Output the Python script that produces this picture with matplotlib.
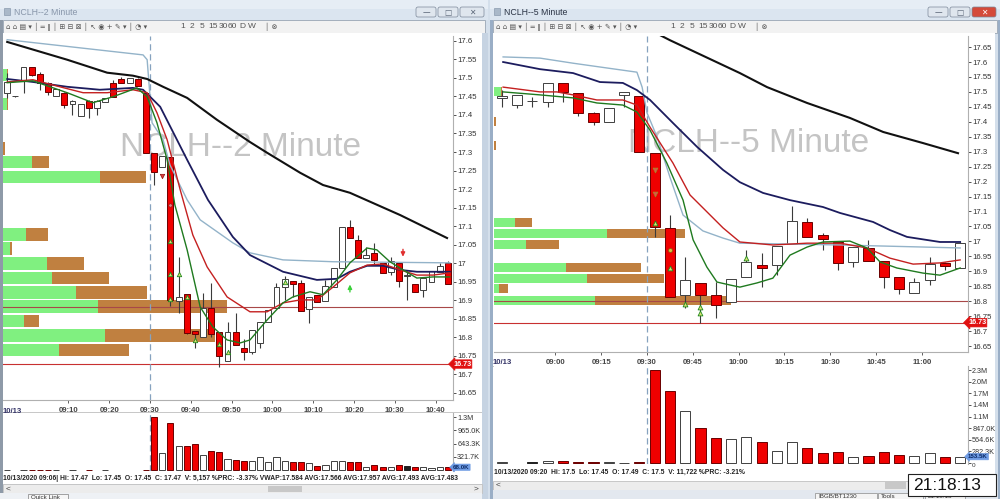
import numpy as np
import matplotlib.pyplot as plt
from matplotlib.patches import Rectangle, FancyBboxPatch

plt.rcParams['font.family'] = ['Liberation Sans', 'DejaVu Sans']

W, H = 1000, 499

# ---------------- NCLH 2 minute (bar start, o, h, l, c, volume in K) ----------------
l_time = ["08:54", "08:56", "08:58", "09:00", "09:02", "09:04", "09:06", "09:08", "09:10", "09:12",
          "09:14", "09:16", "09:18", "09:20", "09:22", "09:24", "09:26", "09:28", "09:30", "09:32",
          "09:34", "09:36", "09:38", "09:40", "09:42", "09:44", "09:46", "09:48", "09:50", "09:52",
          "09:54", "09:56", "09:58", "10:00", "10:02", "10:04", "10:06", "10:08", "10:10", "10:12",
          "10:14", "10:16", "10:18", "10:20", "10:22", "10:24", "10:26", "10:28", "10:30", "10:32",
          "10:34", "10:36", "10:38", "10:40", "10:42"]
l_open = [17.46, 17.45, 17.495, 17.53, 17.511, 17.487, 17.45, 17.46, 17.43, 17.398,
          17.438, 17.419, 17.435, 17.487, 17.497, 17.487, 17.497, 17.46, 17.298, 17.26,
          17.287, 16.898, 16.917, 16.817, 16.801, 16.879, 16.815, 16.736, 16.815, 16.771,
          16.76, 16.785, 16.842, 16.879, 16.936, 16.952, 16.947, 16.877, 16.915, 16.898,
          16.936, 16.987, 17.098, 17.063, 17.014, 17.028, 17.001, 16.977, 17.001, 16.965,
          16.944, 16.928, 16.95, 16.977, 17.001]
l_high = [17.514, 17.452, 17.53, 17.53, 17.515, 17.49, 17.47, 17.462, 17.44, 17.43,
          17.44, 17.44, 17.446, 17.495, 17.503, 17.50, 17.50, 17.46, 17.298, 17.29,
          17.287, 17.017, 16.917, 16.817, 16.92, 16.947, 16.815, 16.842, 16.866, 16.795,
          16.82, 16.842, 16.874, 16.947, 16.966, 16.952, 16.955, 16.909, 16.915, 16.955,
          16.987, 17.098, 17.117, 17.076, 17.044, 17.055, 17.001, 17.017, 17.001, 16.982,
          16.944, 16.96, 16.979, 17.001, 17.006]
l_low = [17.446, 17.448, 17.46, 17.505, 17.468, 17.455, 17.45, 17.42, 17.40, 17.398,
         17.392, 17.40, 17.435, 17.449, 17.487, 17.487, 17.479, 17.298, 17.211, 17.26,
         16.885, 16.866, 16.81, 16.771, 16.80, 16.80, 16.72, 16.736, 16.78, 16.739,
         16.755, 16.771, 16.842, 16.879, 16.90, 16.909, 16.871, 16.839, 16.896, 16.898,
         16.936, 16.987, 17.068, 17.014, 17.014, 16.995, 16.974, 16.968, 16.936, 16.90,
         16.923, 16.909, 16.95, 16.977, 16.944]
l_close = [17.489, 17.45, 17.53, 17.508, 17.487, 17.462, 17.47, 17.427, 17.438, 17.43,
           17.419, 17.438, 17.446, 17.449, 17.487, 17.50, 17.479, 17.298, 17.246, 17.29,
           16.901, 16.909, 16.812, 16.809, 16.879, 16.809, 16.75, 16.815, 16.78, 16.76,
           16.82, 16.842, 16.874, 16.936, 16.958, 16.944, 16.871, 16.909, 16.896, 16.939,
           16.987, 17.098, 17.068, 17.014, 17.022, 17.009, 16.974, 17.006, 16.952, 16.965,
           16.923, 16.96, 16.979, 16.993, 16.944]
l_vol = [8, 0, 8, 8, 5, 5, 5.157, 0, 5, 0,
         5, 0, 5, 0, 0, 0, 0, 8, 1290, 411,
         1140, 580, 580, 629, 363, 460, 435, 266, 242, 230,
         218, 320, 185, 320, 230, 205, 205, 180, 100, 120,
         218, 218, 205, 205, 85, 120, 85, 85, 120, 100,
         65, 85, 50, 85, 68]

# moving averages (minutes after 09:00, price)
l_ma_black_t = [-5, 9.7, 19.5, 25.8, 29.3, 33.2, 39.1, 46.4, 54.5, 58.7, 66.8, 72.4, 79, 91.3, 102.8]
l_ma_black = [17.597, 17.549, 17.514, 17.506, 17.497, 17.476, 17.446, 17.387, 17.327, 17.298,
              17.244, 17.211, 17.19, 17.13, 17.068]
l_vwap_t = [-5, 28.3, 29.3, 30.5, 33.2, 34.9, 39.1, 42.3, 50.3, 54.5, 62.6, 74.9, 103.5]
l_vwap = [17.603, 17.562, 17.549, 17.379, 17.333, 17.265, 17.171, 17.117, 17.055, 17.028,
          17.009, 17.004, 17.001]
l_ma_navy_t = [-5, 1.3, 9.7, 17.7, 25.8, 28.3, 32.5, 39.1, 44.2, 50.3, 54.5, 62.6, 70.9, 75.8,
               79, 83.2, 87.1, 91.3, 95.4, 103.5]
l_ma_navy = [17.497, 17.489, 17.476, 17.468, 17.473, 17.468, 17.422, 17.279, 17.171, 17.071,
             17.022, 16.977, 16.955, 16.958, 16.977, 16.993, 16.993, 16.982, 16.977, 16.977]
l_ma_red_t = [-5, 1.3, 7.9, 13.6, 19.5, 25.8, 29.3, 31.7, 34.2, 37.4, 40.5, 44, 48.9, 54.5,
              58.7, 62.6, 66.8, 70.9, 74.9, 79, 83.2, 87.1, 91.3, 95.4, 99.4, 103.5]
l_ma_red = [17.489, 17.495, 17.476, 17.46, 17.46, 17.468, 17.46, 17.406, 17.333, 17.198,
            17.076, 16.99, 16.909, 16.869, 16.869, 16.893, 16.901, 16.901, 16.936, 16.974,
            16.995, 16.998, 16.982, 16.968, 16.968, 16.974]
l_ma_green_t = [-5, 1.3, 9.7, 16, 20.9, 26.8, 29.3, 31.7, 34.2, 36.1, 39.1, 42.3, 45.4, 48.9,
                52.1, 54.5, 58.7, 62.6, 65, 69.2, 72.4, 75.8, 79, 83.2, 85.6, 88.8, 92, 95.4,
                99.4, 103.5]
l_ma_green = [17.487, 17.492, 17.46, 17.433, 17.449, 17.473, 17.449, 17.379, 17.279, 17.157,
              17.036, 16.882, 16.828, 16.793, 16.785, 16.793, 16.847, 16.893, 16.909, 16.923,
              16.915, 16.955, 17.001, 17.041, 17.036, 17.004, 16.982, 16.96, 16.963, 16.963]

# volume profile: price level, buy, sell
l_prof_price = [17.508, 17.43, 17.31, 17.273, 17.233, 17.078, 17.039, 17.0, 16.96, 16.921,
                16.883, 16.844, 16.805, 16.766]
l_prof_buy = [4, 4, 0, 29, 97, 23, 7, 44, 49, 73, 95, 21, 102, 56]
l_prof_sell = [1, 0.5, 2, 17, 46, 22, 2, 37, 57, 71, 129, 15, 110, 70]
l_levels = [16.883, 16.728]

# ---------------- NCLH 5 minute ----------------
r_time = ["08:40", "08:45", "08:50", "08:55", "09:00", "09:05", "09:10", "09:15", "09:20", "09:25",
          "09:30", "09:35", "09:40", "09:45", "09:50", "09:55", "10:00", "10:05", "10:10", "10:15",
          "10:20", "10:25", "10:30", "10:35", "10:40", "10:45", "10:50", "10:55", "11:00", "11:05",
          "11:10"]
r_open = [17.479, 17.456, 17.469, 17.466, 17.53, 17.496, 17.429, 17.399, 17.49, 17.486,
          17.296, 17.045, 16.821, 16.861, 16.821, 16.797, 16.881, 16.921, 16.921, 16.991,
          17.065, 17.021, 16.998, 16.931, 16.978, 16.934, 16.881, 16.827, 16.871, 16.928,
          16.911]
r_high = [17.506, 17.49, 17.483, 17.53, 17.53, 17.496, 17.433, 17.446, 17.50, 17.486,
          17.296, 17.088, 16.948, 16.861, 16.864, 16.874, 16.971, 16.961, 16.985, 17.118,
          17.078, 17.028, 16.998, 16.981, 17.005, 16.934, 16.881, 16.877, 16.948, 16.93,
          16.998]
r_low = [17.449, 17.446, 17.449, 17.449, 17.466, 17.419, 17.389, 17.399, 17.45, 17.299,
         17.015, 16.814, 16.777, 16.727, 16.744, 16.797, 16.881, 16.847, 16.888, 16.991,
         17.015, 16.971, 16.904, 16.914, 16.934, 16.844, 16.824, 16.827, 16.854, 16.904,
         16.911]
r_close = [17.486, 17.49, 17.469, 17.53, 17.50, 17.429, 17.399, 17.446, 17.50, 17.299,
           17.048, 16.814, 16.871, 16.821, 16.787, 16.874, 16.931, 16.911, 16.985, 17.068,
           17.015, 17.008, 16.928, 16.981, 16.934, 16.881, 16.841, 16.864, 16.924, 16.918,
           16.995]
r_vol = [20, 0, 15, 50, 40, 25, 25, 25, 11.722, 25,
         2260, 1760, 1270, 852, 600, 595, 640, 511, 300, 520,
         365, 235, 267, 154, 170, 276, 195, 170, 235, 146,
         153.5]

r_ma_black_t = [31, 37.5, 60.4, 69.3, 82.4, 96.4, 107.3, 120.3, 131.8]
r_ma_black = [17.707, 17.673, 17.563, 17.516, 17.463, 17.413, 17.366, 17.329, 17.295]
r_vwap_t = [-17.1, -5, 5.8, 16.9, 26.7, 28.4, 30, 33.3, 37.5, 41.8, 48.3, 54.9, 60.4, 93.2, 132.5]
r_vwap = [17.617, 17.613, 17.596, 17.58, 17.566, 17.516, 17.43, 17.349, 17.215, 17.088,
          17.035, 17.011, 16.994, 16.988, 16.978]
r_ma_navy_t = [-17.1, -5, 5.8, 14.6, 22.1, 26.7, 31, 38.5, 46.4, 54.9, 60.4, 68, 76.8, 87.6,
               93.2, 104, 109.5, 115.1, 125.9, 132.5]
r_ma_navy = [17.60, 17.576, 17.563, 17.533, 17.53, 17.506, 17.473, 17.396, 17.316, 17.239,
             17.198, 17.162, 17.138, 17.115, 17.095, 17.065, 17.038, 17.015, 16.998, 16.998]
r_ma_red_t = [-17.1, -5, 0.5, 5.8, 13.6, 22.1, 26.7, 31, 38.5, 44.1, 54.9, 60.4, 71.2, 82.4,
              93.2, 102, 109.5, 117.1, 125.9, 132.5]
r_ma_red = [17.516, 17.5, 17.5, 17.49, 17.473, 17.473, 17.456, 17.382, 17.262, 17.155,
            17.045, 16.998, 16.988, 16.994, 16.994, 16.978, 16.944, 16.924, 16.928, 16.938]
r_ma_green_t = [-17.1, -5, 5.8, 13.6, 22.1, 26.7, 31, 36.5, 41.8, 45.1, 49.6, 52.9, 57.2, 60.4,
                66, 71.2, 76.8, 82.4, 87.6, 96.4, 102, 106.3, 111.8, 120.3, 125.9, 132.5]
r_ma_green = [17.5, 17.49, 17.48, 17.463, 17.456, 17.433, 17.372, 17.262, 17.138, 17.005,
              16.914, 16.864, 16.854, 16.847, 16.861, 16.877, 16.954, 16.981, 16.998, 17.001,
              16.978, 16.931, 16.911, 16.894, 16.887, 16.911]

r_prof_price = [17.50, 17.40, 17.32, 17.063, 17.026, 16.989, 16.913, 16.876, 16.841, 16.802]
r_prof_buy = [7, 0, 0, 21, 113, 32, 72, 93, 5, 101]
r_prof_sell = [1, 2, 2, 17, 78, 33, 75, 77, 9, 136]
r_levels = [16.80, 16.728]

price_ticks_l = [16.65, 16.7, 16.75, 16.8, 16.85, 16.9, 16.95, 17.0, 17.05, 17.1, 17.15, 17.2,
                 17.25, 17.3, 17.35, 17.4, 17.45, 17.5, 17.55, 17.6]
price_ticks_r = price_ticks_l + [17.65]
l_vol_ticks = [321.7, 643.3, 965.0, 1286.8]
l_vol_labels = ["321.7K", "643.3K", "965.0K", "1.3M"]
r_vol_ticks = [0, 282.3, 564.6, 847.0, 1129.3, 1411.6, 1693.9, 1976.2, 2258.6]
r_vol_labels = ["0", "282.3K", "564.6K", "847.0K", "1.1M", "1.4M", "1.7M", "2.0M", "2.3M"]
l_xticks = [10, 20, 30, 40, 50, 60, 70, 80, 90, 100]
r_xticks = [0, 15, 30, 45, 60, 75, 90, 105, 120]


def minutes(s):
    h, m = s.split(":")
    return (int(h) - 9) * 60 + int(m)


def hhmm(t):
    return "%02d:%02d" % (9 + t // 60, t % 60)


def px_axes(fig, x0, y0, x1, y1, z=2):
    ax = fig.add_axes([x0 / W, 1 - y1 / H, (x1 - x0) / W, (y1 - y0) / H])
    ax.set_zorder(z)
    return ax


def draw_candles(ax, t, o, h, l, c, width):
    t = np.array(t); o = np.array(o); h = np.array(h); l = np.array(l); c = np.array(c)
    ax.vlines(t, l, h, color='#3a3a3a', lw=0.8, zorder=3)
    up = c >= o
    lo = np.minimum(o, c)
    hgt = np.maximum(np.abs(c - o), 0.002)
    ax.bar(t[up], hgt[up], width, bottom=lo[up], color='white', edgecolor='#404040', lw=0.7, zorder=4)
    ax.bar(t[~up], hgt[~up], width, bottom=lo[~up], color='#f00000', edgecolor='#6a0000', lw=0.7, zorder=4)


def draw_volume(ax, t, o, c, v, width):
    t = np.array(t); o = np.array(o); c = np.array(c); v = np.array(v)
    keep = v > 0
    t, o, c, v = t[keep], o[keep], c[keep], v[keep]
    cols = ['white' if cc > oo else ('#f00000' if cc < oo else '#202020') for oo, cc in zip(o, c)]
    edges = ['#404040' if cc > oo else ('#6a0000' if cc < oo else '#202020') for oo, cc in zip(o, c)]
    ax.bar(t, v, width, color=cols, edgecolor=edges, lw=0.7, zorder=3)


def style_price(ax, ticks, xt, xt_labels):
    ax.yaxis.tick_right()
    ax.set_yticks(ticks)
    ax.set_yticklabels(["%g" % v for v in ticks])
    ax.tick_params(axis='y', direction='out', length=2, width=0.6, pad=1, labelsize=5.6,
                   colors='#333333')
    ax.set_xticks(xt)
    ax.set_xticklabels(xt_labels)
    ax.tick_params(axis='x', direction='out', length=2, width=0.6, pad=3, labelsize=5.6,
                   colors='#444444')
    for lb in ax.get_xticklabels():
        lb.set_fontweight('bold')
    for s in ['top', 'left']:
        ax.spines[s].set_visible(False)
    for s in ['right', 'bottom']:
        ax.spines[s].set_color('#b0b0b0')
        ax.spines[s].set_linewidth(0.8)


def style_vol(ax, ticks, labels):
    ax.yaxis.tick_right()
    ax.set_yticks(ticks)
    ax.set_yticklabels(labels)
    ax.tick_params(axis='y', direction='out', length=2, width=0.6, pad=1, labelsize=5.2,
                   colors='#333333')
    ax.set_xticks([])
    for s in ['top', 'left', 'bottom']:
        ax.spines[s].set_visible(False)
    ax.spines['right'].set_color('#b0b0b0')


def tag(ax, y, text, fc, tc, size=5.2):
    ax.text(1.0, y, text, transform=ax.get_yaxis_transform(), ha='left', va='center',
            fontsize=size, color=tc, fontweight='bold', clip_on=False, zorder=10,
            bbox=dict(boxstyle='larrow,pad=0.1', fc=fc, ec=fc, lw=0.5))


fig = plt.figure(figsize=(W / 100, H / 100), dpi=100)
fig.patch.set_facecolor('#d4dfeb')

# ---------------- window chrome ----------------
bg = fig.add_axes([0, 0, 1, 1])
bg.set_zorder(0)
bg.set_xlim(0, W)
bg.set_ylim(H, 0)
bg.axis('off')


def rect(x0, y0, x1, y1, fc, ec='none', lw=0.6):
    bg.add_patch(Rectangle((x0, y0), x1 - x0, y1 - y0, fc=fc, ec=ec, lw=lw))


for (wx0, wx1, title, active) in [(0, 488, "NCLH--2 Minute", False), (490, 1000, "NCLH--5 Minute", True)]:
    rect(wx0, 0, wx1, 20, '#dbe5f0')
    rect(wx0, 0, wx1, 9, '#e6edf5')
    rect(wx0 + 3, 20, wx1 - 3, 33, '#f2f2f2', '#9aa6b4')
    rect(wx0 + 3, 33, wx1 - 5, 484 if not active else 482, 'white')
    bg.text(wx0 + 14, 12, title, fontsize=6.3, color='#2a3344' if active else '#8896aa', va='center')
    bg.add_patch(Rectangle((wx0 + 4, 8), 6, 7, fc='#a9b8c9', ec='#7d8ea3', lw=0.4))
    bx = wx1 - 72
    for i, glyph in enumerate(["—", "□", "✕"]):
        fc = '#d44a3a' if (active and i == 2) else '#dfe6ee'
        w = 24 if i == 2 else 20
        x0 = bx + [0, 22, 44][i]
        bg.add_patch(FancyBboxPatch((x0, 7), w, 10, boxstyle='round,pad=0,rounding_size=2',
                                    fc=fc, ec='#7b8798', lw=0.5))
        bg.text(x0 + w / 2, 12.3, glyph, fontsize=5.5, ha='center', va='center',
                color='white' if (active and i == 2) else '#5a6677', family=['DejaVu Sans'])
    tb = "⌂ ⌂ ▤ ▾ │ ═ ‖ │ ⊞ ⊟ ⊠ │ ↖ ◉ + ✎ ▾ │ ◔ ▾"
    bg.text(wx0 + 6, 26.5, tb, fontsize=5, color='#555555', va='center', family=['DejaVu Sans'])
    for lab, xx in zip(["1", "2", "5", "15", "30", "60", "D", "W"], [183, 192, 202, 213, 223, 232, 242, 252]):
        bg.text(wx0 + xx, 26.5, lab, fontsize=6, color='#555555', va='center', ha='center')
    bg.text(wx0 + 265, 26.5, "│ ⊗", fontsize=5, color='#555555', va='center', family=['DejaVu Sans'])

# left window edges and scrollbars
rect(482, 33, 488, 499, '#c6d3e2')
rect(0, 20, 3, 499, '#8e9aa8')
rect(3, 484, 482, 493, '#ececec', '#c0c0c0')
rect(268, 485.5, 302, 491.5, '#c8c8c8')
bg.text(6, 489, "<", fontsize=6, va='center', color='#444444')
bg.text(474, 489, ">", fontsize=6, va='center', color='#444444')
rect(0, 493, 482, 499, '#eef1f5')
bg.add_patch(Rectangle((28, 494), 40, 6, fc='#f6f6f6', ec='#808080', lw=0.5))
bg.text(31, 497.5, "Quick Link", fontsize=4.5, va='center', color='#333333')
rect(3, 411.5, 482, 412.5, '#c8c8c8')

# right window edges, scrollbar, clock
rect(490, 20, 493, 499, '#9aaec6')
rect(998, 20, 1000, 499, '#9aaec6')
rect(493, 481, 908, 490, '#ececec', '#c0c0c0')
rect(885, 482, 906, 489, '#c8c8c8')
bg.text(496, 485.5, "<", fontsize=6, va='center', color='#444444')
rect(493, 490, 998, 499, '#e3e8ef')
for x0, x1, s in [(815, 877, "IBGB/BT1230"), (878, 923, "Tools"), (925, 965, "21:18:13")]:
    bg.add_patch(Rectangle((x0, 493), x1 - x0, 7, fc='#f4f4f4', ec='#8a8a8a', lw=0.5))
    bg.text(x0 + 3, 497, s, fontsize=4.5, va='center', color='#333333')
bg.add_patch(Rectangle((908, 474), 88, 22, fc='white', ec='#222222', lw=0.8, zorder=5))
bg.text(913, 485, "21:18:13", fontsize=12.5, va='center', color='#111111', zorder=6)
rect(493, 365.5, 968, 366.5, '#c8c8c8')

# status lines
bg.text(3, 478, "10/13/2020 09:06| Hi: 17.47  Lo: 17.45  O: 17.45  C: 17.47  V: 5,157 %PRC: -3.37% "
        "VWAP:17.584 AVG:17.566 AVG:17.957 AVG:17.493 AVG:17.483",
        fontsize=4.9, fontweight='bold', va='center', color='#222222')
bg.text(494, 472.5, "10/13/2020 09:20  Hi: 17.5  Lo: 17.45  O: 17.49  C: 17.5  V: 11,722 %PRC: -3.21%",
        fontsize=4.9, fontweight='bold', va='center', color='#222222')

# ---------------- charts ----------------
panels = [
    dict(px=(3, 36, 453, 400), vpx=(3, 413, 453, 471), xlim=(-6.03, 104.26), ylim=(16.631, 17.613),
         vylim=(-24, 1384), t=l_time, o=l_open, h=l_high, l=l_low, c=l_close, v=l_vol, bar=2,
         cw=1.45, vw=1.5, ticks=price_ticks_l, xt=l_xticks, vt=l_vol_ticks, vl=l_vol_labels,
         black=(l_ma_black_t, l_ma_black), vwap=(l_vwap_t, l_vwap), navy=(l_ma_navy_t, l_ma_navy),
         red=(l_ma_red_t, l_ma_red), green=(l_ma_green_t, l_ma_green),
         prof=(l_prof_price, l_prof_buy, l_prof_sell), ph=0.034, levels=l_levels,
         name="NCLH--2 Minute", wm=(0.527, 0.695), vtag="68.0K", date_x=0.02),
    dict(px=(494, 36, 968, 352), vpx=(494, 366, 968, 464), xlim=(-20.08, 135.07), ylim=(16.63, 17.687),
         vylim=(-24, 2356), t=r_time, o=r_open, h=r_high, l=r_low, c=r_close, v=r_vol, bar=5,
         cw=3.3, vw=3.3, ticks=price_ticks_r, xt=r_xticks, vt=r_vol_ticks, vl=r_vol_labels,
         black=(r_ma_black_t, r_ma_black), vwap=(r_vwap_t, r_vwap), navy=(r_ma_navy_t, r_ma_navy),
         red=(r_ma_red_t, r_ma_red), green=(r_ma_green_t, r_ma_green),
         prof=(r_prof_price, r_prof_buy, r_prof_sell), ph=0.03, levels=r_levels,
         name="NCLH--5 Minute", wm=(0.536, 0.661), vtag="153.5K", date_x=0.018),
]

axes = []
for p in panels:
    x0, y0, x1, y1 = p['px']
    ax = px_axes(fig, *p['px'])
    axv = px_axes(fig, *p['vpx'])
    axes.append((ax, axv))
    tc = [minutes(s) + p['bar'] / 2 for s in p['t']]
    ax.set_xlim(*p['xlim']); ax.set_ylim(*p['ylim'])
    axv.set_xlim(*p['xlim']); axv.set_ylim(*p['vylim'])

    # volume profile, drawn from the left edge of the chart
    scale = (p['xlim'][1] - p['xlim'][0]) / (x1 - x0)
    pp, pb, psl = p['prof']
    pb = np.array(pb) * scale
    psl = np.array(psl) * scale
    ax.barh(pp, pb, p['ph'], left=p['xlim'][0], color='#80f080', lw=0, zorder=1.5)
    ax.barh(pp, psl, p['ph'], left=p['xlim'][0] + pb, color='#c08040', lw=0, zorder=1.5)

    ax.text(p['wm'][0], p['wm'][1], p['name'], transform=ax.transAxes, fontsize=24,
            color='#c4c4c4', ha='center', va='center', zorder=1)
    for lv, col in zip(p['levels'], ['#a84848', '#c83030']):
        ax.axhline(lv, color=col, lw=0.8, zorder=2)
    ax.axvline(30, color='#86a2bf', lw=0.9, ls=(0, (5, 3)), zorder=2)
    axv.axvline(30, color='#86a2bf', lw=0.9, ls=(0, (5, 3)), zorder=2)

    draw_candles(ax, tc, p['o'], p['h'], p['l'], p['c'], p['cw'])
    draw_volume(axv, tc, p['o'], p['c'], p['v'], p['vw'])

    ax.plot(*p['vwap'], color='#93b3c9', lw=1.0, zorder=5)
    ax.plot(*p['black'], color='#111111', lw=1.5, zorder=5)
    ax.plot(*p['navy'], color='#1c1c5e', lw=1.3, zorder=5)
    ax.plot(*p['red'], color='#c42020', lw=1.0, zorder=5)
    ax.plot(*p['green'], color='#1f7a1f', lw=1.0, zorder=5)

    style_price(ax, p['ticks'], p['xt'], [hhmm(t) for t in p['xt']])
    style_vol(axv, p['vt'], p['vl'])
    tag(ax, p['levels'][1], "16.73", '#e01010', 'white')
    tag(axv, float(p['vtag'][:-1]), p['vtag'], '#6e9be3', '#0b2a66', size=4.4)
    ax.text(p['date_x'], -0.022, "10/13", transform=ax.transAxes, fontsize=5.6, fontweight='bold',
            color='#333366', ha='center', va='top')
    ax.text(p['date_x'], -0.058, "‾‾‾‾", transform=ax.transAxes, fontsize=5, color='#333366',
            ha='center', va='top', family=['DejaVu Sans'])

axL, axLv = axes[0]
axR, axRv = axes[1]

# the 0 label peeks out below the last-volume tag on the 5 minute chart
zero_lab = axRv.get_yticklabels()[0]
zero_lab.set_fontsize(4.6)
zero_lab.set_va('top')

# signal markers on the 2 minute chart
mk_t = [35, 35, 35, 37, 39, 41, 47, 49, 63]
mk_p = [17.06, 16.971, 16.904, 16.971, 16.909, 16.793, 16.782, 16.76, 16.95]
axL.scatter(mk_t, mk_p, marker='^', s=10, fc='#d8e070', ec='#1f8a1f', lw=0.6, zorder=6)
axL.scatter([33], [17.236], marker='v', s=10, fc='#e04040', ec='#901010', lw=0.5, zorder=6)
axL.scatter([35], [17.157], marker='o', s=6, fc='#e08080', ec='#901010', lw=0.4, zorder=6)
axL.annotate("", xy=(79, 16.95), xytext=(79, 16.915),
             arrowprops=dict(arrowstyle='-|>', color='#3ad03a', lw=1.0, mutation_scale=6), zorder=6)
axL.annotate("", xy=(92, 17.01), xytext=(92, 17.045),
             arrowprops=dict(arrowstyle='-|>', color='#e03030', lw=1.0, mutation_scale=6), zorder=6)

# signal markers on the 5 minute chart
axR.scatter([32.5, 32.5], [17.239, 17.158], marker='v', s=12, fc='#e05050', ec='#a09020', lw=0.5, zorder=6)
axR.scatter([32.5, 37.5, 42.5, 47.5, 47.5, 62.5], [17.061, 16.911, 16.79, 16.78, 16.76, 16.944],
            marker='^', s=12, fc='#d8e070', ec='#1f8a1f', lw=0.6, zorder=6)
axR.scatter([37.5], [16.971], marker='o', s=8, fc='#d8c040', ec='#806010', lw=0.5, zorder=6)

fig.savefig("out.png", dpi=100, facecolor=fig.get_facecolor())
